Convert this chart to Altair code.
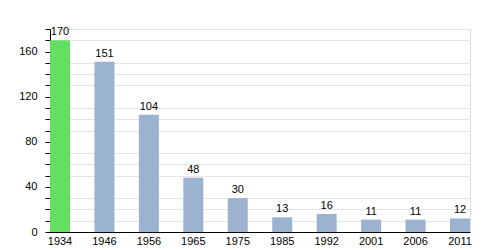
import altair as alt
import pandas as pd

years = ["1934", "1946", "1956", "1965", "1975", "1985", "1992", "2001", "2006", "2011"]
population = [170, 151, 104, 48, 30, 13, 16, 11, 11, 12]
highlight = [True, False, False, False, False, False, False, False, False, False]
minor_ticks = [10, 20, 30, 50, 60, 70, 90, 100, 110, 130, 140, 150, 170, 180]
major_ticks = [0, 40, 80, 120, 160]

df = pd.DataFrame({"year": years, "pop": population, "hl": highlight})

font = "Liberation Sans"

x = alt.X("year:N", sort=years, title=None,
          scale=alt.Scale(paddingInner=0.55, paddingOuter=0.0),
          axis=alt.Axis(labelAngle=0, ticks=False, domainColor="black",
                        labelColor="black", labelFont=font, labelFontSize=11,
                        labelPadding=3, grid=False))

y_minor = alt.Y("pop:Q", title=None,
                scale=alt.Scale(domain=[0, 180], nice=False),
                axis=alt.Axis(values=minor_ticks, labels=False, orient="left",
                              gridColor="#e4e4e4", domainColor="black",
                              tickColor="black", tickSize=5))

y_major = alt.Y("pop:Q", title=None,
                scale=alt.Scale(domain=[0, 180], nice=False),
                axis=alt.Axis(values=major_ticks, orient="left", domain=False,
                              tickColor="black", tickSize=5, gridColor="#a8a8a8",
                              labelColor="black", labelFont=font, labelFontSize=11,
                              labelPadding=8))

bars = alt.Chart(df).mark_bar().encode(
    x=x, y=y_minor,
    color=alt.condition("datum.hl", alt.value("#63e063"), alt.value("#9bb3cf")),
)

labels = alt.Chart(df).mark_text(dy=-8, font=font, fontSize=11, color="black").encode(
    x=alt.X("year:N", sort=years), y=y_major, text="pop:Q"
)

chart = alt.layer(bars, labels).resolve_axis(y="independent").properties(
    width=420, height=203,
    padding={"left": 50, "top": 29, "right": 30, "bottom": 18},
    autosize=alt.AutoSizeParams(type="none"),
).configure_view(stroke=None, strokeWidth=0).configure(background="white")

chart.save("out.html", embed_options={"renderer": "svg", "actions": False})
